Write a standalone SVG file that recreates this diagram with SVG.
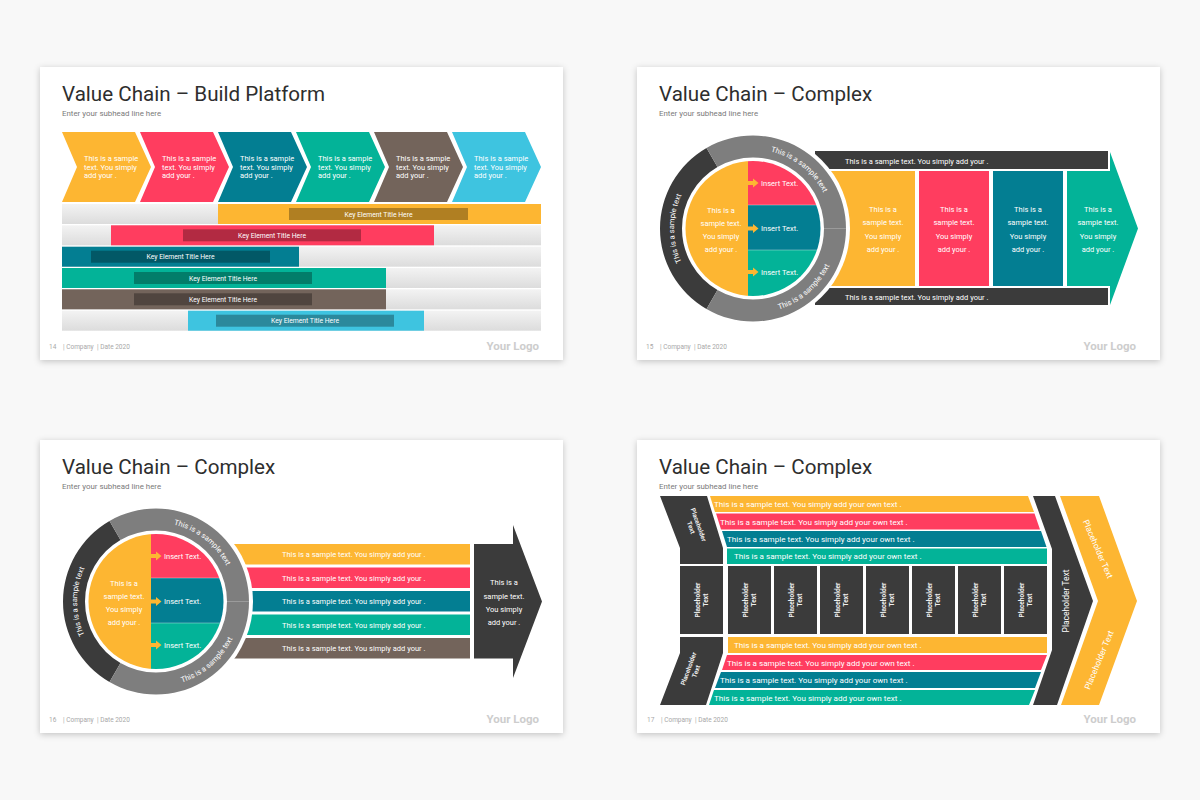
<svg xmlns="http://www.w3.org/2000/svg" xmlns:xlink="http://www.w3.org/1999/xlink" width="1200" height="800" viewBox="0 0 1200 800">
<defs>
<style>
text{font-family:Roboto,'Liberation Sans',sans-serif}
.title{font-size:20.6px;fill:#2e2e2e}
.sub{font-size:7.9px;fill:#7a7a7a}
.foot{font-size:6.5px;fill:#a8a8a8}
.logo{font-size:11.5px;font-weight:bold;fill:#cdcdcd}
.w{fill:#fff}
.t75{font-size:7.5px}
.t7{font-size:6.8px}
.t8{font-size:8.1px}
.pb{font-size:6.5px;font-weight:bold;fill:#eee}
.Y{fill:#FDB632}.R{fill:#FF3D5F}.T{fill:#037E92}.G{fill:#03B398}.B{fill:#73645B}.C{fill:#3EC4E0}.D{fill:#3B3B3B}.gr{fill:#7E7E7E}
.inner{fill:#000;fill-opacity:0.3}
.mid{text-anchor:middle}
.slide{fill:#fff;filter:url(#sh)}
</style>
<filter id="sh" x="-5%" y="-5%" width="110%" height="115%"><feDropShadow dx="0" dy="1.5" stdDeviation="3" flood-color="#000" flood-opacity="0.22"/></filter>
<linearGradient id="gbar" x1="0" y1="0" x2="0" y2="1"><stop offset="0" stop-color="#f3f3f3"/><stop offset="1" stop-color="#dcdcdc"/></linearGradient>
<clipPath id="disc"><circle cx="0" cy="0" r="67.5"/></clipPath>
<path id="arcL" d="M-60.52,50.78 A79,79 0 0 1 -60.52,-50.78"/>
<path id="arcT" d="M-2.76,-78.95 A79,79 0 0 1 77.27,-16.42"/>
<path id="arcB" d="M1.48,84.99 A85,85 0 0 0 83.95,13.30"/>
<g id="wheel">
<circle r="97" fill="#fff"/>
<path class="D" d="M-46.5,80.54 A93,93 0 0 1 -46.5,-80.54 L-35.5,-61.49 A71,71 0 0 0 -35.5,61.49 Z"/>
<path class="gr" d="M-46.5,-80.54 A93,93 0 0 1 93,0 L71,0 A71,71 0 0 0 -35.5,-61.49 Z"/>
<path class="gr" d="M93,0 A93,93 0 0 1 -46.5,80.54 L-35.5,61.49 A71,71 0 0 0 71,0 Z"/>
<line x1="71" y1="0" x2="93" y2="0" stroke="#9a9a9a" stroke-width="0.8"/>
<g clip-path="url(#disc)">
<rect class="Y" x="-68" y="-68" width="63" height="136"/>
<rect class="R" x="-5" y="-68" width="73" height="44.5"/>
<rect class="T" x="-5" y="-23.5" width="73" height="45"/>
<rect class="G" x="-5" y="21.5" width="73" height="47"/>
<line x1="-5" y1="-23.5" x2="68" y2="-23.5" stroke="#fff" stroke-opacity="0.5" stroke-width="0.7"/>
<line x1="-5" y1="21.5" x2="68" y2="21.5" stroke="#fff" stroke-opacity="0.5" stroke-width="0.7"/>
</g>
<path class="Y" d="M-5,-47.5 h5 v-2.5 l5.5,4.5 l-5.5,4.5 v-2.5 h-5 Z"/>
<path class="Y" d="M-5,-2 h5 v-2.5 l5.5,4.5 l-5.5,4.5 v-2.5 h-5 Z"/>
<path class="Y" d="M-5,41.5 h5 v-2.5 l5.5,4.5 l-5.5,4.5 v-2.5 h-5 Z"/>
<text class="w t75" x="8" y="-42.8">Insert Text.</text>
<text class="w t75" x="8" y="2.7">Insert Text.</text>
<text class="w t75" x="8" y="46.2">Insert Text.</text>
<text class="w t75 mid" x="-32" y="-15.8">This is a</text>
<text class="w t75 mid" x="-32" y="-2.8">sample text.</text>
<text class="w t75 mid" x="-32" y="10.2">You simply</text>
<text class="w t75 mid" x="-32" y="23.2">add your .</text>
<text class="w t75"><textPath xlink:href="#arcL" href="#arcL" startOffset="50%" text-anchor="middle">This is a sample text</textPath></text>
<text class="w t75"><textPath xlink:href="#arcT" href="#arcT" startOffset="50%" text-anchor="middle">This is a sample text</textPath></text>
<text class="w t75"><textPath xlink:href="#arcB" href="#arcB" startOffset="50%" text-anchor="middle">This is a sample text</textPath></text>
</g>
</defs>
<rect width="1200" height="800" fill="#f8f8f8"/>

<!-- ===== Slide 14 ===== -->
<g id="slide14">
<rect class="slide" x="40" y="67" width="523" height="293"/>
<text class="title" x="62" y="101">Value Chain – Build Platform</text>
<text class="sub" x="62" y="115.5">Enter your subhead line here</text>
<g id="s14-chevrons">
<g id="chev1"><polygon class="Y" points="62,132 135,132 151,167 135,202 62,202 77,167"/>
<text class="w t75" x="84" y="160.5">This is a sample</text><text class="w t75" x="84" y="169.5">text. You simply</text><text class="w t75" x="84" y="178">add your .</text></g>
<g id="chev2"><polygon class="R" points="140,132 213,132 229,167 213,202 140,202 155,167"/>
<text class="w t75" x="162" y="160.5">This is a sample</text><text class="w t75" x="162" y="169.5">text. You simply</text><text class="w t75" x="162" y="178">add your .</text></g>
<g id="chev3"><polygon class="T" points="218,132 291,132 307,167 291,202 218,202 233,167"/>
<text class="w t75" x="240" y="160.5">This is a sample</text><text class="w t75" x="240" y="169.5">text. You simply</text><text class="w t75" x="240" y="178">add your .</text></g>
<g id="chev4"><polygon class="G" points="296,132 369,132 385,167 369,202 296,202 311,167"/>
<text class="w t75" x="318" y="160.5">This is a sample</text><text class="w t75" x="318" y="169.5">text. You simply</text><text class="w t75" x="318" y="178">add your .</text></g>
<g id="chev5"><polygon class="B" points="374,132 447,132 463,167 447,202 374,202 389,167"/>
<text class="w t75" x="396" y="160.5">This is a sample</text><text class="w t75" x="396" y="169.5">text. You simply</text><text class="w t75" x="396" y="178">add your .</text></g>
<g id="chev6"><polygon class="C" points="452,132 525,132 541,167 525,202 452,202 467,167"/>
<text class="w t75" x="474" y="160.5">This is a sample</text><text class="w t75" x="474" y="169.5">text. You simply</text><text class="w t75" x="474" y="178">add your .</text></g>
</g>
<g id="s14-bars">
<g id="bar1"><rect x="62" y="204" width="479" height="20" fill="url(#gbar)"/><rect class="Y" x="218" y="204" width="323" height="20"/><rect class="inner" x="289" y="208" width="179" height="12"/><text class="w t7 mid" x="378.5" y="216.5">Key Element Title Here</text></g>
<g id="bar2"><rect x="62" y="225.3" width="479" height="20" fill="url(#gbar)"/><rect class="R" x="111" y="225.3" width="323" height="20"/><rect class="inner" x="183" y="229.3" width="178" height="12"/><text class="w t7 mid" x="272" y="237.8">Key Element Title Here</text></g>
<g id="bar3"><rect x="62" y="246.7" width="479" height="20" fill="url(#gbar)"/><rect class="T" x="62" y="246.7" width="237" height="20"/><rect class="inner" x="91" y="250.7" width="179" height="12"/><text class="w t7 mid" x="180.5" y="259.2">Key Element Title Here</text></g>
<g id="bar4"><rect x="62" y="268" width="479" height="20" fill="url(#gbar)"/><rect class="G" x="62" y="268" width="324" height="20"/><rect class="inner" x="134" y="272" width="178" height="12"/><text class="w t7 mid" x="223" y="280.5">Key Element Title Here</text></g>
<g id="bar5"><rect x="62" y="289.3" width="479" height="20" fill="url(#gbar)"/><rect class="B" x="62" y="289.3" width="324" height="20"/><rect class="inner" x="134" y="293.3" width="178" height="12"/><text class="w t7 mid" x="223" y="301.8">Key Element Title Here</text></g>
<g id="bar6"><rect x="62" y="310.7" width="479" height="20" fill="url(#gbar)"/><rect class="C" x="188" y="310.7" width="236" height="20"/><rect class="inner" x="216" y="314.7" width="178" height="12"/><text class="w t7 mid" x="305" y="323.2">Key Element Title Here</text></g>
</g>
<text class="foot" x="49" y="349">14</text><text class="foot" x="63" y="349">| Company</text><text class="foot" x="97" y="349">| Date 2020</text>
<text class="logo" x="539" y="350" text-anchor="end">Your Logo</text>
</g>

<!-- ===== Slide 15 ===== -->
<g id="slide15">
<rect class="slide" x="637" y="67" width="523" height="293"/>
<text class="title" x="659" y="101">Value Chain – Complex</text>
<text class="sub" x="659" y="115.5">Enter your subhead line here</text>
<g id="s15-topbar"><rect class="D" x="815" y="151" width="293" height="18"/><text class="w t75" x="845" y="163.5">This is a sample text. You simply add your .</text></g>
<g id="s15-botbar"><rect class="D" x="815" y="288" width="293" height="17"/><text class="w t75" x="845" y="299.5">This is a sample text. You simply add your .</text></g>
<g id="s15-col1"><rect class="Y" x="820" y="171" width="95" height="115"/>
<text class="w t75 mid" x="883" y="212">This is a</text><text class="w t75 mid" x="883" y="225.4">sample text.</text><text class="w t75 mid" x="883" y="238.7">You simply</text><text class="w t75 mid" x="883" y="251.7">add your .</text></g>
<g id="s15-col2"><rect class="R" x="919" y="171" width="70" height="115"/>
<text class="w t75 mid" x="954" y="212">This is a</text><text class="w t75 mid" x="954" y="225.4">sample text.</text><text class="w t75 mid" x="954" y="238.7">You simply</text><text class="w t75 mid" x="954" y="251.7">add your .</text></g>
<g id="s15-col3"><rect class="T" x="993" y="171" width="70" height="115"/>
<text class="w t75 mid" x="1028" y="212">This is a</text><text class="w t75 mid" x="1028" y="225.4">sample text.</text><text class="w t75 mid" x="1028" y="238.7">You simply</text><text class="w t75 mid" x="1028" y="251.7">add your .</text></g>
<g id="s15-arrow"><polygon class="G" points="1067,171 1110,171 1110,152 1138,228.5 1110,305 1110,286 1067,286"/>
<text class="w t75 mid" x="1098" y="212">This is a</text><text class="w t75 mid" x="1098" y="225.4">sample text.</text><text class="w t75 mid" x="1098" y="238.7">You simply</text><text class="w t75 mid" x="1098" y="251.7">add your .</text></g>
<g id="s15-wheel" transform="translate(753,228.5)"><use xlink:href="#wheel" href="#wheel"/></g>
<text class="foot" x="646" y="349">15</text><text class="foot" x="660" y="349">| Company</text><text class="foot" x="694" y="349">| Date 2020</text>
<text class="logo" x="1136" y="350" text-anchor="end">Your Logo</text>
</g>

<!-- ===== Slide 16 ===== -->
<g id="slide16">
<rect class="slide" x="40" y="440" width="523" height="293"/>
<text class="title" x="62" y="474">Value Chain – Complex</text>
<text class="sub" x="62" y="488.5">Enter your subhead line here</text>
<g id="s16-row1"><rect class="Y" x="200" y="544" width="270" height="20.5"/><text class="w t75" x="282" y="557">This is a sample text. You simply add your .</text></g>
<g id="s16-row2"><rect class="R" x="200" y="567.5" width="270" height="20.5"/><text class="w t75" x="282" y="580.5">This is a sample text. You simply add your .</text></g>
<g id="s16-row3"><rect class="T" x="200" y="591" width="270" height="20.5"/><text class="w t75" x="282" y="604">This is a sample text. You simply add your .</text></g>
<g id="s16-row4"><rect class="G" x="200" y="614.5" width="270" height="20.5"/><text class="w t75" x="282" y="627.5">This is a sample text. You simply add your .</text></g>
<g id="s16-row5"><rect class="B" x="200" y="638" width="270" height="20.5"/><text class="w t75" x="282" y="651">This is a sample text. You simply add your .</text></g>
<g id="s16-arrow"><polygon class="D" points="474,544 513,544 513,525 542,601.5 513,678 513,658.5 474,658.5"/>
<text class="w t75 mid" x="504" y="585.3">This is a</text><text class="w t75 mid" x="504" y="598.7">sample text.</text><text class="w t75 mid" x="504" y="611.7">You simply</text><text class="w t75 mid" x="504" y="624.7">add your .</text></g>
<g id="s16-wheel" transform="translate(156,601.5)"><use xlink:href="#wheel" href="#wheel"/></g>
<text class="foot" x="49" y="722">16</text><text class="foot" x="63" y="722">| Company</text><text class="foot" x="97" y="722">| Date 2020</text>
<text class="logo" x="539" y="723" text-anchor="end">Your Logo</text>
</g>

<!-- ===== Slide 17 ===== -->
<g id="slide17">
<rect class="slide" x="637" y="440" width="523" height="293"/>
<text class="title" x="659" y="474">Value Chain – Complex</text>
<text class="sub" x="659" y="488.5">Enter your subhead line here</text>
<g id="s17-topleft"><polygon class="D" points="660,496 707,496 723,548 723,564 680,564 680,548"/>
<g transform="translate(695,526) rotate(70)"><text class="pb mid" x="0" y="-1.5">Placeholder</text><text class="pb mid" x="0" y="6.5">Text</text></g></g>
<g id="s17-botleft"><polygon class="D" points="680,637 723,637 723,653 706,705 660,705 680,653"/>
<g transform="translate(692,670) rotate(-70)"><text class="pb mid" x="0" y="-1.5">Placeholder</text><text class="pb mid" x="0" y="6.5">Text</text></g></g>
<g id="s17-top-stripes">
<polygon class="Y" points="710,496 1028,496 1034,512 715,512"/>
<polygon class="R" points="716,513.5 1034.5,513.5 1040,529.5 721,529.5"/>
<polygon class="T" points="722,531 1041,531 1046.5,547 727,547"/>
<polygon class="G" points="727,548.5 1047,548.5 1047,564 727,564"/>
<text class="w t8" x="714" y="507">This is a sample text. You simply add your own text .</text>
<text class="w t8" x="720" y="524.5">This is a sample text. You simply add your own text .</text>
<text class="w t8" x="727" y="542">This is a sample text. You simply add your own text .</text>
<text class="w t8" x="734" y="559">This is a sample text. You simply add your own text .</text>
</g>
<g id="s17-boxes">
<rect class="D" x="680" y="566" width="43" height="68"/>
<rect class="D" x="728" y="566" width="43" height="68"/>
<rect class="D" x="774" y="566" width="43" height="68"/>
<rect class="D" x="820" y="566" width="43" height="68"/>
<rect class="D" x="866" y="566" width="43" height="68"/>
<rect class="D" x="912" y="566" width="43" height="68"/>
<rect class="D" x="958" y="566" width="43" height="68"/>
<rect class="D" x="1004" y="566" width="43" height="68"/>
<g transform="translate(701.5,600) rotate(-90)"><text class="pb mid" y="-1.5">Placeholder</text><text class="pb mid" y="6.5">Text</text></g>
<g transform="translate(749.5,600) rotate(-90)"><text class="pb mid" y="-1.5">Placeholder</text><text class="pb mid" y="6.5">Text</text></g>
<g transform="translate(795.5,600) rotate(-90)"><text class="pb mid" y="-1.5">Placeholder</text><text class="pb mid" y="6.5">Text</text></g>
<g transform="translate(841.5,600) rotate(-90)"><text class="pb mid" y="-1.5">Placeholder</text><text class="pb mid" y="6.5">Text</text></g>
<g transform="translate(887.5,600) rotate(-90)"><text class="pb mid" y="-1.5">Placeholder</text><text class="pb mid" y="6.5">Text</text></g>
<g transform="translate(933.5,600) rotate(-90)"><text class="pb mid" y="-1.5">Placeholder</text><text class="pb mid" y="6.5">Text</text></g>
<g transform="translate(979.5,600) rotate(-90)"><text class="pb mid" y="-1.5">Placeholder</text><text class="pb mid" y="6.5">Text</text></g>
<g transform="translate(1025.5,600) rotate(-90)"><text class="pb mid" y="-1.5">Placeholder</text><text class="pb mid" y="6.5">Text</text></g>
</g>
<g id="s17-bot-stripes">
<polygon class="Y" points="728,637 1047,637 1047,653 728,653"/>
<polygon class="R" points="727,655 1047,655 1041,670 722,670"/>
<polygon class="T" points="721,672 1041,672 1035,688 715,688"/>
<polygon class="G" points="714,690 1035,690 1029,705 709,705"/>
<text class="w t8" x="734" y="648">This is a sample text. You simply add your own text .</text>
<text class="w t8" x="727" y="665.5">This is a sample text. You simply add your own text .</text>
<text class="w t8" x="720" y="683">This is a sample text. You simply add your own text .</text>
<text class="w t8" x="714" y="700.5">This is a sample text. You simply add your own text .</text>
</g>
<g id="s17-darkchevron"><polygon class="D" points="1033,496 1055,496 1093,601 1057,705 1033,705 1052,650 1052,549"/>
<text class="w mid" style="font-size:8.5px" transform="translate(1066,601) rotate(-90)" x="0" y="3">Placeholder Text</text></g>
<g id="s17-yellowchevron"><polygon class="Y" points="1060,496 1099,496 1137,601 1099,705 1061,705 1098,601"/>
<text class="w mid" style="font-size:8.5px" transform="translate(1098,549) rotate(66.5)" x="0" y="3">Placeholder Text</text>
<text class="w mid" style="font-size:8.5px" transform="translate(1099,660) rotate(-67.5)" x="0" y="3">Placeholder Text</text></g>
<text class="foot" x="647" y="722">17</text><text class="foot" x="661" y="722">| Company</text><text class="foot" x="695" y="722">| Date 2020</text>
<text class="logo" x="1136" y="723" text-anchor="end">Your Logo</text>
</g>
</svg>
